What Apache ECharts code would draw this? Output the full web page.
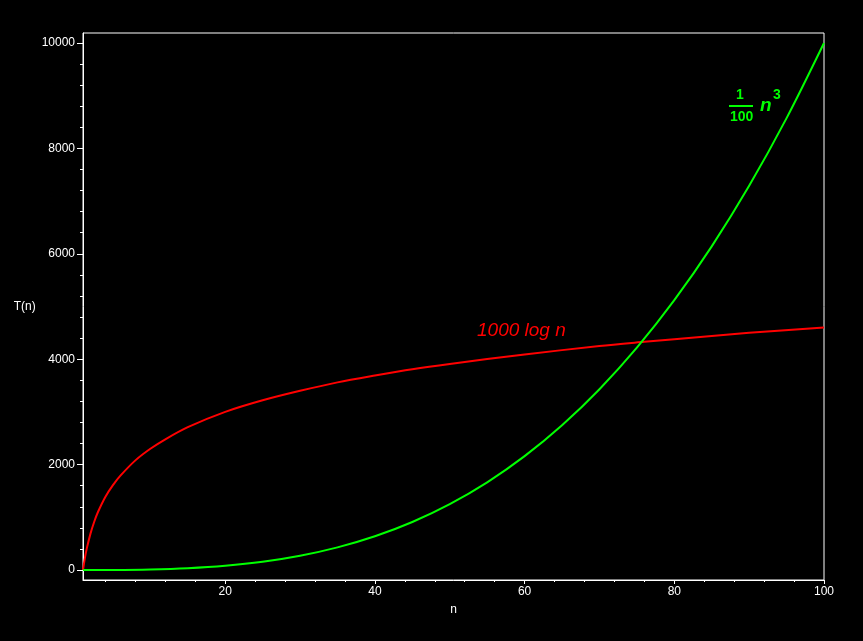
<!DOCTYPE html>
<html>
<head>
<meta charset="utf-8">
<script src="https://cdn.jsdelivr.net/npm/echarts@6/dist/echarts.min.js"></script>
<style>html,body{margin:0;padding:0;background:#000;}#c{width:863px;height:641px;}</style>
</head>
<body>
<div id="c"></div>
<script>
// n values and curve values
var nLog = [1, 1.25, 1.5, 2, 2.5, 3, 4, 5, 6, 8, 10, 12, 15, 20, 25, 30, 35, 40, 45, 50, 60, 70, 76, 80, 90, 100];
var logValues = [0, 225, 405, 690, 915, 1100, 1390, 1610, 1790, 2080, 2300, 2480, 2710, 3000, 3220, 3400, 3560, 3690, 3810, 3910, 4090, 4250, 4330, 4380, 4500, 4600];
var nCube = [1, 5, 10, 15, 20, 25, 30, 35, 40, 45, 50, 55, 60, 65, 70, 75, 80, 85, 90, 95, 100];
var cubeValues = [0, 1, 10, 34, 80, 156, 270, 429, 640, 911, 1250, 1664, 2160, 2746, 3430, 4219, 5120, 6141, 7290, 8574, 10000];
var xTickLabels = [20, 40, 60, 80, 100];
var xMinorTicks = [4, 8, 12, 16, 24, 28, 32, 36, 44, 48, 52, 56, 64, 68, 72, 76, 84, 88, 92, 96];
var yTickLabels = [0, 2000, 4000, 6000, 8000, 10000];
var yMinorTicks = [400, 800, 1200, 1600, 2400, 2800, 3200, 3600, 4400, 4800, 5200, 5600, 6400, 6800, 7200, 7600, 8400, 8800, 9200, 9600];
var xName = 'n', yName = 'T(n)';

var logData = nLog.map(function (n, i) { return [n, logValues[i]]; });
var cubeData = nCube.map(function (n, i) { return [n, cubeValues[i]]; });

var FONT = 'Liberation Sans';
var plain = function (v) { return String(v); };
var chart = echarts.init(document.getElementById('c'));
var xMin = 1, xMax = 100, yMin = -190, yMax = 10190;
chart.setOption({
  backgroundColor: '#000',
  animation: false,
  grid: { left: 83, right: 39, top: 33, bottom: 61, show: true, borderColor: '#fff', borderWidth: 1, backgroundColor: 'transparent' },
  xAxis: [{
    type: 'value', min: xMin, max: xMax, position: 'bottom',
    name: xName, nameLocation: 'middle', nameGap: 24,
    nameTextStyle: { color: '#fff', fontFamily: FONT, fontSize: 12 },
    axisLine: { show: true, onZero: false, lineStyle: { color: '#fff', width: 1 } },
    axisTick: { show: true, length: 4, customValues: xTickLabels, lineStyle: { color: '#fff' } },
    axisLabel: { show: true, customValues: xTickLabels, formatter: plain, color: '#fff', fontFamily: FONT, fontSize: 12, margin: 6 },
    splitLine: { show: false }
  }, {
    type: 'value', min: xMin, max: xMax, position: 'bottom',
    axisLine: { show: false, onZero: false },
    axisTick: { show: true, length: 2, customValues: xMinorTicks, lineStyle: { color: '#fff' } },
    axisLabel: { show: false },
    splitLine: { show: false }
  }],
  yAxis: [{
    type: 'value', min: yMin, max: yMax, position: 'left',
    name: yName, nameLocation: 'middle', nameRotate: 0, nameGap: 33,
    nameTextStyle: { color: '#fff', fontFamily: FONT, fontSize: 12, align: 'right' },
    axisLine: { show: true, onZero: false, lineStyle: { color: '#fff', width: 1 } },
    axisTick: { show: true, length: 6, customValues: yTickLabels, lineStyle: { color: '#fff' } },
    axisLabel: { show: true, customValues: yTickLabels, formatter: plain, color: '#fff', fontFamily: FONT, fontSize: 12, margin: 8 },
    splitLine: { show: false }
  }, {
    type: 'value', min: yMin, max: yMax, position: 'left',
    axisLine: { show: false, onZero: false },
    axisTick: { show: true, length: 3, customValues: yMinorTicks, lineStyle: { color: '#fff' } },
    axisLabel: { show: false },
    splitLine: { show: false }
  }],
  series: [{
    type: 'line', data: logData, smooth: 0.3, showSymbol: false,
    lineStyle: { color: '#ff0000', width: 2 }, xAxisIndex: 0, yAxisIndex: 0
  }, {
    type: 'line', data: cubeData, smooth: 0.3, showSymbol: false,
    lineStyle: { color: '#00ff00', width: 2 }, xAxisIndex: 0, yAxisIndex: 0
  }],
  graphic: [
    { type: 'text', left: 477, top: 321, style: { text: '1000 log n', fill: '#ff0000', font: 'italic 19px "Liberation Sans"' } },
    { type: 'text', left: 736, top: 88, style: { text: '1', fill: '#00ff00', font: 'bold 14px "Liberation Sans"' } },
    { type: 'line', shape: { x1: 729, y1: 106, x2: 753, y2: 106 }, style: { stroke: '#00ff00', lineWidth: 2 } },
    { type: 'text', left: 730, top: 110, style: { text: '100', fill: '#00ff00', font: 'bold 14px "Liberation Sans"' } },
    { type: 'text', left: 760, top: 96, style: { text: 'n', fill: '#00ff00', font: 'bold italic 19px "Liberation Sans"' } },
    { type: 'text', left: 773, top: 88, style: { text: '3', fill: '#00ff00', font: 'bold 14px "Liberation Sans"' } }
  ]
});
</script>
</body>
</html>
